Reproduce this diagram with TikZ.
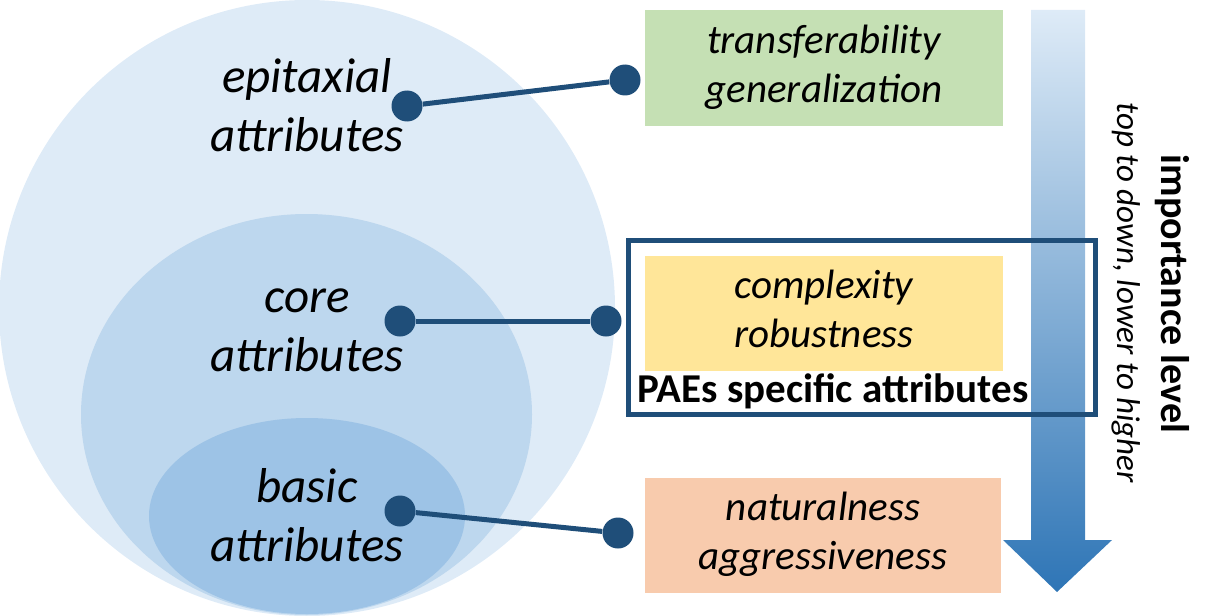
\documentclass[tikz,border=0pt]{standalone}
\usepackage{fontspec}
\setmainfont{Carlito}
\usepackage{tikz}
\usetikzlibrary{positioning}

\definecolor{outerblue}{HTML}{DEEBF7}
\definecolor{midblue}{HTML}{BDD7EE}
\definecolor{innerblue}{HTML}{9DC3E6}
\definecolor{linkblue}{HTML}{1F4E79}
\definecolor{boxgreen}{HTML}{C5E0B4}
\definecolor{boxyellow}{HTML}{FFE699}
\definecolor{boxorange}{HTML}{F8CBAD}
\definecolor{arrowtop}{HTML}{DEEBF7}
\definecolor{arrowbot}{HTML}{2E75B6}

\tikzset{
    dot/.style = {circle, fill = linkblue, inner sep = 0pt, minimum size = 15.5pt},
    link/.style = {linkblue, line width = 2.5pt},
    layer/.style = {align = center, inner sep = 0pt, font = \fontsize{24.5}{29.5}\selectfont\itshape},
    attrbox/.style = {align = center, inner sep = 0pt, minimum width = 179pt, minimum height = 58pt,
                      font = \fontsize{20.5}{24.5}\selectfont\itshape},
}

\begin{document}
\begin{tikzpicture}[x = 0.5pt, y = -0.5pt]
        \useasboundingbox (0,0) rectangle (1213,615);

        % nested layers
        \begin{scope}
            \clip (0,0) rectangle (1213,615);
            \fill [outerblue] (307,308) circle [radius = 154pt];
            \fill [midblue] (306.5,414.5) ellipse [x radius = 112.75pt, y radius = 100.25pt];
            \fill [innerblue] (307,516) ellipse [x radius = 79pt, y radius = 49pt];
        \end{scope}

        \node [layer] (epi) at (307,109.7) {\strut epitaxial\\\strut attributes};
        \node [layer] (core) at (307,329.7) {\strut core\\\strut attributes};
        \node [layer] (basic) at (307,519.7) {\strut basic\\\strut attributes};

        % importance arrow
        \shade [top color = arrowtop, bottom color = arrowbot] (1031,10) -- (1085,10) -- (1085,540) -- (1112,540)
            -- (1057,592) -- (1003,540) -- (1031,540) -- cycle;

        \node [rotate = -90, font = \fontsize{20}{24}\selectfont\bfseries] (imp) at (1172,294) {importance level};
        \node [rotate = -90, font = \fontsize{16.5}{20}\selectfont\itshape] (dir) at (1126,293) {top to down, lower to higher};

        % attribute boxes
        \node [attrbox, fill = boxgreen] (transfer) at (824,68) {\strut transferability\\\strut generalization};
        \node [attrbox, fill = boxyellow, minimum height = 57.5pt] (complex) at (824,313.5) {\strut complexity\\\strut robustness};
        \node [attrbox, fill = boxorange, minimum width = 178pt, minimum height = 57.5pt] (natural) at (823,535.5) {\strut naturalness\\\strut aggressiveness};

        \draw [linkblue, line width = 2.5pt] (628.5,240.5) rectangle (1095.5,414.5);
        \node [anchor = base, inner sep = 0pt, font = \fontsize{20.5}{24.5}\selectfont\bfseries] (paes) at (833,402) {PAEs specific attributes};

        % connectors
        \node [dot] (epiL) at (407,106) {};
        \node [dot] (epiR) at (625,80) {};
        \node [dot] (coreL) at (400,321) {};
        \node [dot] (coreR) at (606,321) {};
        \node [dot] (basicL) at (400,511) {};
        \node [dot] (basicR) at (618,533) {};

        \draw [link] (epiL) -- (epiR);
        \draw [link] (coreL) -- (coreR);
        \draw [link] (basicL) -- (basicR);
    \end{tikzpicture}
\end{document}
